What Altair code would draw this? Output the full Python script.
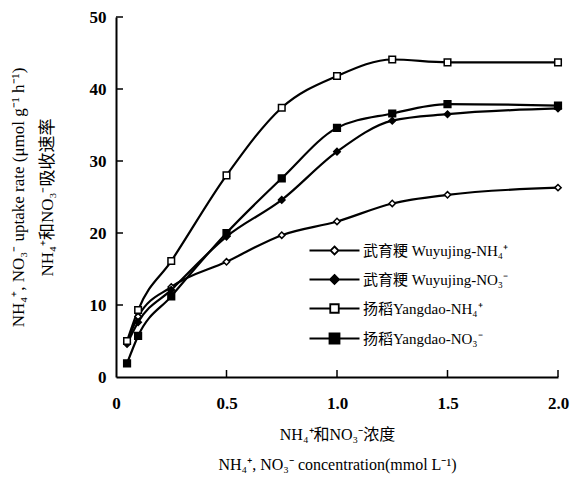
import altair as alt
import pandas as pd

# ---- data ----
conc = [0.05, 0.1, 0.25, 0.5, 0.75, 1.0, 1.25, 1.5, 2.0]
wuyujing_nh4 = [4.8, 8.4, 12.5, 16.0, 19.7, 21.6, 24.1, 25.3, 26.3]
wuyujing_no3 = [4.6, 7.6, 12.1, 19.5, 24.6, 31.3, 35.6, 36.5, 37.3]
yangdao_nh4 = [5.0, 9.3, 16.1, 28.0, 37.4, 41.8, 44.1, 43.7, 43.7]
yangdao_no3 = [1.9, 5.7, 11.2, 20.0, 27.6, 34.6, 36.6, 37.9, 37.7]

series = ["武育粳 Wuyujing-NH₄⁺", "武育粳 Wuyujing-NO₃⁻",
          "扬稻Yangdao-NH₄⁺", "扬稻Yangdao-NO₃⁻"]
values = [wuyujing_nh4, wuyujing_no3, yangdao_nh4, yangdao_no3]

x_ticks = [0.5, 1.0, 1.5, 2.0]
y_ticks = [10, 20, 30, 40, 50]
x_label_values = [0, 0.5, 1.0, 1.5, 2.0]
y_label_values = [0, 10, 20, 30, 40, 50]

x_title = ["NH₄⁺和NO₃⁻浓度", "NH₄⁺, NO₃⁻ concentration(mmol L⁻¹)"]
y_title = ["NH₄⁺, NO₃⁻ uptake rate (μmol g⁻¹ h⁻¹)", "NH₄⁺和NO₃⁻吸收速率"]

rows = []
for name, vals in zip(series, values):
    for c, v in zip(conc, vals):
        rows.append({"series": name, "conc": c, "rate": v})
df = pd.DataFrame(rows)
xt_df = pd.DataFrame({"conc": x_ticks})
yt_df = pd.DataFrame({"rate": y_ticks})

FONT = "Liberation Serif, Times New Roman, Noto Sans CJK SC, serif"

point_shapes = ["diamond", "diamond", "square", "square"]
point_fills = ["white", "black", "white", "black"]
point_strokes = ["black", "black", "black", "black"]
point_sizes = [40, 45, 70, 100]
legend_paths = [
    "M-5,0H-0.8M0.8,0H5M0,-0.8L0.8,0L0,0.8L-0.8,0Z",
    "M-5,0H-0.9M0.9,0H5M0,-0.9L0.9,0L0,0.9L-0.9,0Z",
    "M-5,0H-0.85M0.85,0H5M-0.85,-0.85H0.85V0.85H-0.85Z",
    "M-5,0H-1M1,0H5M-1,-1H1V1H-1Z",
]

x_enc = alt.X(
    "conc:Q",
    scale=alt.Scale(domain=[0, 2], nice=False, zero=False),
    axis=alt.Axis(
        values=x_label_values,
        labelExpr="datum.value == 0 ? '0' : format(datum.value, '.1f')",
        ticks=False, tickSize=0, grid=False,
        domain=True, domainColor="black", domainWidth=2,
        labelFont=FONT, labelFontSize=17, labelFontWeight="bold",
        labelColor="black", labelPadding=18, labelFlush=False,
        titleFont=FONT, titleFontSize=16, titleFontWeight="normal",
        titleColor="black", titlePadding=15, titleLineHeight=30,
    ),
    title=x_title,
)
y_enc = alt.Y(
    "rate:Q",
    scale=alt.Scale(domain=[0, 50], nice=False),
    axis=alt.Axis(
        values=y_label_values,
        ticks=False, tickSize=0, grid=False,
        domain=True, domainColor="black", domainWidth=2,
        labelFont=FONT, labelFontSize=17, labelFontWeight="bold",
        labelColor="black", labelPadding=10, labelFlush=False,
        titleFont=FONT, titleFontSize=17, titleFontWeight="normal",
        titleColor="black", titlePadding=33, titleLineHeight=29,
    ),
    title=y_title,
)

base = alt.Chart(df)

lines = base.mark_line(interpolate="monotone", color="black", strokeWidth=2.2).encode(
    x=x_enc, y=y_enc, detail="series:N"
)

points = base.mark_point(stroke="black", strokeWidth=1.5, opacity=1).encode(
    x=x_enc, y=y_enc,
    shape=alt.Shape("series:N", scale=alt.Scale(domain=series, range=point_shapes), legend=None),
    fill=alt.Fill("series:N", scale=alt.Scale(domain=series, range=point_fills), legend=None),
    size=alt.Size("series:N", scale=alt.Scale(domain=series, range=point_sizes), legend=None),
)

leg = alt.Legend(
    title=None, orient="none", legendX=211, legendY=226, padding=0,
    labelFont=FONT, labelFontSize=15, labelColor="black", labelOffset=21,
    rowPadding=12, symbolSize=100, symbolStrokeColor="black",
    symbolStrokeWidth=1.8, labelLimit=400,
)
legend_layer = base.transform_filter("false").mark_point(
    strokeWidth=1.8, opacity=1, size=100
).encode(
    x=x_enc, y=y_enc,
    shape=alt.Shape("series:N", scale=alt.Scale(domain=series, range=legend_paths), legend=leg),
    fill=alt.Fill("series:N", scale=alt.Scale(domain=series, range=point_fills), legend=leg),
    stroke=alt.Stroke("series:N", scale=alt.Scale(domain=series, range=point_strokes), legend=leg),
)

xticks = alt.Chart(xt_df).mark_rule(color="black", strokeWidth=1.5).encode(
    x=x_enc, y=alt.value(360), y2=alt.value(353)
)
yticks = alt.Chart(yt_df).mark_rule(color="black", strokeWidth=1.5).encode(
    y=y_enc, x=alt.value(0), x2=alt.value(7)
)

chart = alt.layer(lines, points, legend_layer, xticks, yticks).resolve_scale(
    shape="independent", fill="independent", stroke="independent"
).properties(
    width=442, height=360,
    padding={"left": 116, "top": 17, "right": 25, "bottom": 108},
    autosize="none",
    background="white",
).configure_view(stroke=None)

chart.save("out.html", embed_options={"renderer": "svg", "actions": False})
